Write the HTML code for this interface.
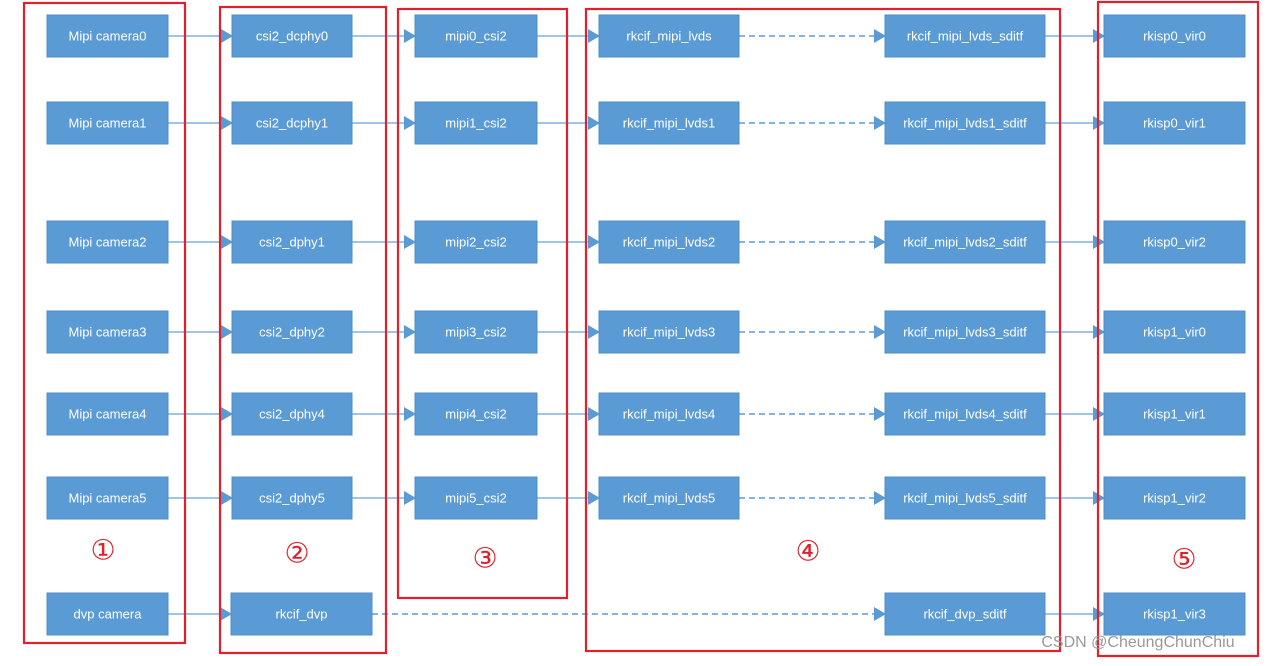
<!DOCTYPE html>
<html><head><meta charset="utf-8"><style>
html,body{margin:0;padding:0;background:#fff;width:1268px;height:666px;overflow:hidden}
svg text{font-family:"Liberation Sans",sans-serif}
.n{fill:#5b9bd5;stroke:#4f8cc4;stroke-width:1}
.t{fill:#fff;font-size:13px;text-anchor:middle;dominant-baseline:central}
.s{stroke:#7fb0e0;stroke-width:1.5;fill:none}
.d{stroke:#5b9bd5;stroke-width:1.5;fill:none;stroke-dasharray:6,4}
.r{stroke:#e0202a;stroke-width:2.2;fill:none}
.c{fill:#e0202a;font-family:"DejaVu Serif","Liberation Serif",serif;font-size:28px;text-anchor:middle;dominant-baseline:central}
</style></head><body>
<svg width="1268" height="666" viewBox="0 0 1268 666" xmlns="http://www.w3.org/2000/svg">
<defs><marker id="a" markerWidth="12" markerHeight="14" refX="11" refY="7" orient="auto" markerUnits="userSpaceOnUse"><path d="M0,0 L12,7 L0,14 z" fill="#5b9bd5"/></marker></defs>
<g id="lines"></g>
<rect class="r" x="24" y="3" width="161" height="640"/>
<rect class="r" x="220" y="7" width="166" height="646"/>
<rect class="r" x="398" y="9" width="169" height="589"/>
<rect class="r" x="586" y="9" width="474" height="642"/>
<rect class="r" x="1098" y="2" width="160" height="654"/>
<text class="c" x="103" y="550">①</text>
<text class="c" x="297" y="553">②</text>
<text class="c" x="485" y="558">③</text>
<text class="c" x="808" y="551">④</text>
<text class="c" x="1184" y="559">⑤</text>
<g id="g"></g>
<text x="1138" y="647" style="font-size:16px;fill:#999;text-anchor:middle" >CSDN @CheungChunChiu</text>
</svg>
<script>
var rows=[[15,"Mipi camera0","csi2_dcphy0","mipi0_csi2","rkcif_mipi_lvds","rkcif_mipi_lvds_sditf","rkisp0_vir0"],
[102,"Mipi camera1","csi2_dcphy1","mipi1_csi2","rkcif_mipi_lvds1","rkcif_mipi_lvds1_sditf","rkisp0_vir1"],
[221,"Mipi camera2","csi2_dphy1","mipi2_csi2","rkcif_mipi_lvds2","rkcif_mipi_lvds2_sditf","rkisp0_vir2"],
[311,"Mipi camera3","csi2_dphy2","mipi3_csi2","rkcif_mipi_lvds3","rkcif_mipi_lvds3_sditf","rkisp1_vir0"],
[393,"Mipi camera4","csi2_dphy4","mipi4_csi2","rkcif_mipi_lvds4","rkcif_mipi_lvds4_sditf","rkisp1_vir1"],
[477,"Mipi camera5","csi2_dphy5","mipi5_csi2","rkcif_mipi_lvds5","rkcif_mipi_lvds5_sditf","rkisp1_vir2"]];
var cols=[[47,121],[232,120],[415,122],[599,140],[885,160],[1104,141]];
var g=document.getElementById("g"),L=document.getElementById("lines"),h="",l="";
function box(x,y,w,t){h+='<rect class="n" x="'+x+'" y="'+y+'" width="'+w+'" height="42"/><text class="t" x="'+(x+w/2)+'" y="'+(y+21)+'">'+t+'</text>';}
function ln(x1,x2,y,c){l+='<line class="'+c+'" x1="'+x1+'" y1="'+y+'" x2="'+x2+'" y2="'+y+'" marker-end="url(#a)"/>';}
rows.forEach(function(r){var y=r[0];for(var i=0;i<6;i++){box(cols[i][0],y,cols[i][1],r[i+1]);}
for(var i=0;i<5;i++){ln(cols[i][0]+cols[i][1],cols[i+1][0],y+21,i==3?"d":"s");}});
box(47,593,121,"dvp camera");box(231,593,141,"rkcif_dvp");box(885,593,160,"rkcif_dvp_sditf");box(1104,593,141,"rkisp1_vir3");
ln(168,231,614,"s");ln(372,885,614,"d");ln(1045,1104,614,"s");
g.innerHTML=h;L.innerHTML=l;
</script>
</body></html>
